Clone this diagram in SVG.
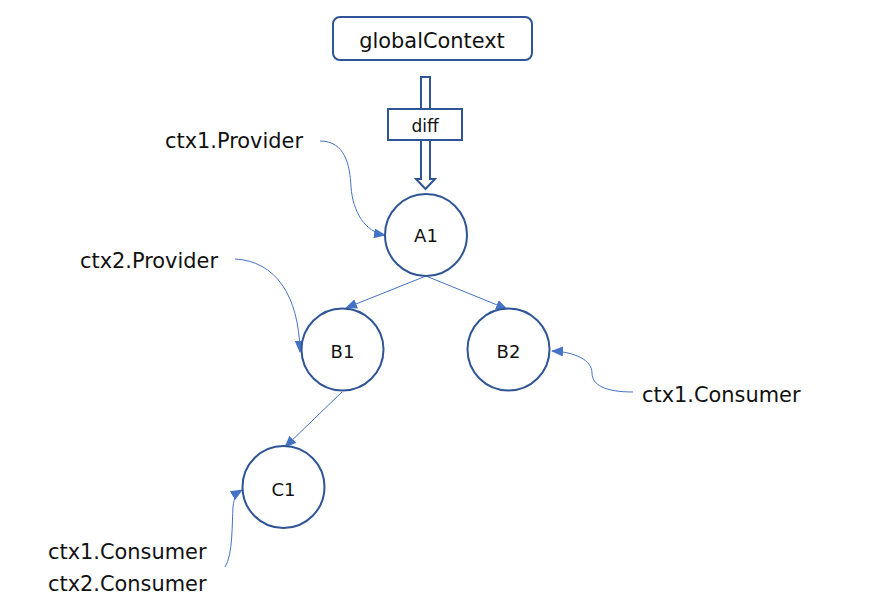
<svg xmlns="http://www.w3.org/2000/svg" width="890" height="609" viewBox="0 0 890 609">
<style>
.node{fill:#fff;stroke:#2F5597;stroke-width:2}
.lbl{font-family:"DejaVu Sans","Liberation Sans",sans-serif;fill:#111}
.big{font-size:20.9px}
.nl{font-size:18px;text-anchor:middle}
.conn{fill:none;stroke:#4472C4;stroke-width:1}
</style>
<defs>
<marker id="ah" viewBox="0 0 12 10" refX="11" refY="5" markerWidth="12" markerHeight="10" markerUnits="userSpaceOnUse" orient="auto">
<path d="M0,0 L12,5 L0,10 Z" fill="#4472C4"/>
</marker>
</defs>
<rect width="890" height="609" fill="#fff"/>
<g id="globalContext">
<rect class="node" x="333" y="17" width="199" height="43" rx="7"/>
<text class="lbl big" x="432" y="48" text-anchor="middle">globalContext</text>
</g>
<g id="diffArrow">
<path class="node" d="M421,77 H430 V179 H435 L425.5,189 L416,179 H421 Z"/>
<rect class="node" x="388" y="109" width="74" height="31"/>
<text class="lbl" x="425" y="132" font-size="17" text-anchor="middle">diff</text>
</g>
<g id="connectors">
<path class="conn" d="M426,276 L346,308" marker-end="url(#ah)"/>
<path class="conn" d="M426,276 L507,309" marker-end="url(#ah)"/>
<path class="conn" d="M342,392 L285,447" marker-end="url(#ah)"/>
<path class="conn" d="M320,141 C345,141 350,165 351,187 C353,212 365,232 385,235" marker-end="url(#ah)"/>
<path class="conn" d="M235,259 C275,261 299,295 300,352" marker-end="url(#ah)"/>
<path class="conn" d="M633,392 C605,392 592,385 592,373 C592,360 575,352 552,351" marker-end="url(#ah)"/>
<path class="conn" d="M225,567 C233,555 232,522 233,507 C234,497 237,493 242,490" marker-end="url(#ah)"/>
</g>
<g id="A1">
<circle class="node" cx="426" cy="235" r="41"/>
<text class="lbl nl" x="426" y="242">A1</text>
</g>
<g id="B1">
<circle class="node" cx="342.5" cy="349.5" r="41"/>
<text class="lbl nl" x="342.5" y="358">B1</text>
</g>
<g id="B2">
<circle class="node" cx="508.5" cy="349.5" r="41"/>
<text class="lbl nl" x="508.5" y="358">B2</text>
</g>
<g id="C1">
<circle class="node" cx="283.5" cy="487" r="41"/>
<text class="lbl nl" x="283.5" y="496">C1</text>
</g>
<g id="labels">
<text class="lbl big" x="165" y="148">ctx1.Provider</text>
<text class="lbl big" x="80" y="268">ctx2.Provider</text>
<text class="lbl big" x="642" y="402">ctx1.Consumer</text>
<text class="lbl big" x="48" y="559">ctx1.Consumer</text>
<text class="lbl big" x="48" y="591">ctx2.Consumer</text>
</g>
</svg>
